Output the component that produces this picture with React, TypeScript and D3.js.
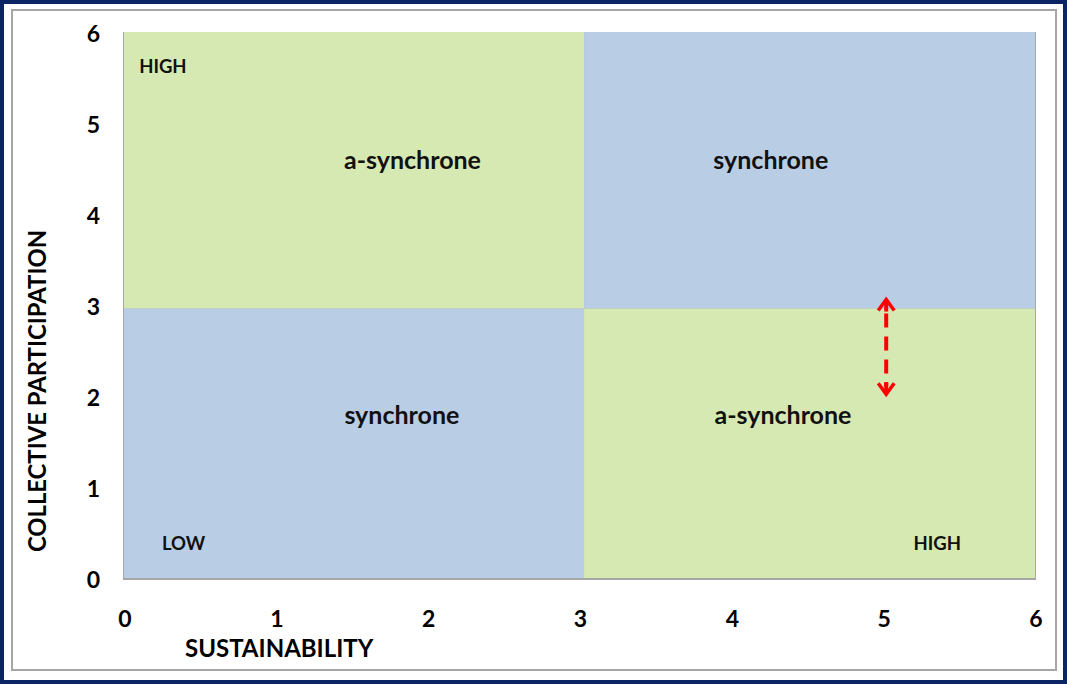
import { useEffect, useRef } from "react";
import * as d3 from "d3";

// quadrant boxes: [x0, x1, y0, y1] (split)
const quadX0 = [0, 3.03, 0, 3.03];
const quadX1 = [3.03, 6, 3.03, 6];
const quadY0 = [2.96, 2.96, 0, 0];
const quadY1 = [6, 6, 2.96, 2.96];
const quadFill = ["#d7e9b3", "#b9cde5", "#b9cde5", "#d7e9b3"];

const quadLabels = ["a-synchrone", "synchrone", "synchrone", "a-synchrone"];
const quadLabelX = [1.9, 4.26, 1.83, 4.34];
const quadLabelY = [4.6, 4.6, 1.8, 1.8];

const cornerLabels = ["HIGH", "LOW", "HIGH"];
const cornerX = [0.1, 0.25, 5.2];
const cornerY = [5.63, 0.38, 0.38];

const xTicks = [0, 1, 2, 3, 4, 5, 6];
const yTicks = [0, 1, 2, 3, 4, 5, 6];

const arrowX = 5.02;
const arrowY = [3.06, 2.02];

const W = 1067;
const H = 684;
const margin = { left: 124, right: 32, top: 32, bottom: 106 };

export default function App() {
  const svgRef = useRef<SVGSVGElement>(null);

  useEffect(() => {
    const svg = d3.select(svgRef.current);
    svg.selectAll("*").remove();
    const font = "Lato, 'Open Sans', sans-serif";

    const x = d3.scaleLinear().domain([0, 6]).range([margin.left, W - margin.right]);
    const y = d3.scaleLinear().domain([0, 6]).range([H - margin.bottom, margin.top]);

    // frame
    svg.append("rect").attr("x", 2).attr("y", 2).attr("width", W - 4).attr("height", H - 4)
      .attr("fill", "#fff").attr("stroke", "#0b2463").attr("stroke-width", 4);
    svg.append("rect").attr("x", 12).attr("y", 10).attr("width", 1044).attr("height", 660)
      .attr("fill", "none").attr("stroke", "#a6a6a6").attr("stroke-width", 2);

    // shadow of plot area
    svg.append("rect")
      .attr("x", x(0) - 1).attr("y", y(6)).attr("width", x(6) - x(0) + 2).attr("height", y(0) - y(6) + 2)
      .attr("fill", "#a6a6a6");

    const q = svg.append("g");
    quadLabels.forEach((_, i) => {
      q.append("rect")
        .attr("x", x(quadX0[i])).attr("y", y(quadY1[i]))
        .attr("width", x(quadX1[i]) - x(quadX0[i]))
        .attr("height", y(quadY0[i]) - y(quadY1[i]))
        .attr("fill", quadFill[i]);
    });

    quadLabels.forEach((t, i) => {
      svg.append("text").attr("x", x(quadLabelX[i])).attr("y", y(quadLabelY[i]))
        .attr("text-anchor", "middle").attr("dominant-baseline", "central")
        .attr("font-family", font).attr("font-weight", "bold").attr("font-size", 25)
        .attr("fill", "#111").text(t);
    });

    cornerLabels.forEach((t, i) => {
      svg.append("text").attr("x", x(cornerX[i])).attr("y", y(cornerY[i]))
        .attr("dominant-baseline", "central")
        .attr("font-family", font).attr("font-weight", "bold").attr("font-size", 18.5)
        .attr("fill", "#111").text(t);
    });

    // ticks
    svg.append("g").selectAll("text").data(xTicks).join("text")
      .attr("x", (d) => x(d) + 1).attr("y", y(0) + 40)
      .attr("text-anchor", "middle").attr("dominant-baseline", "central")
      .attr("font-family", font).attr("font-weight", "bold").attr("font-size", 23)
      .attr("fill", "#000").text((d) => d);
    svg.append("g").selectAll("text").data(yTicks).join("text")
      .attr("x", x(0) - 24).attr("y", (d) => y(d) + 1)
      .attr("text-anchor", "end").attr("dominant-baseline", "central")
      .attr("font-family", font).attr("font-weight", "bold").attr("font-size", 23)
      .attr("fill", "#000").text((d) => d);

    // axis titles
    svg.append("text").attr("x", 185).attr("y", 647)
      .attr("dominant-baseline", "central")
      .attr("font-family", font).attr("font-weight", "bold").attr("font-size", 24)
      .attr("fill", "#000").text("SUSTAINABILITY");
    svg.append("text").attr("transform", `translate(37,${391}) rotate(-90)`)
      .attr("text-anchor", "middle").attr("dominant-baseline", "central")
      .attr("font-family", font).attr("font-weight", "bold").attr("font-size", 23.8)
      .attr("fill", "#000").text("COLLECTIVE PARTICIPATION");

    // double-headed dashed arrow
    const ax = x(arrowX);
    const ya = y(arrowY[0]);
    const yb = y(arrowY[1]);
    svg.append("line").attr("x1", ax).attr("x2", ax).attr("y1", ya + 14).attr("y2", yb - 8)
      .attr("stroke", "#ff0000").attr("stroke-width", 4).attr("stroke-dasharray", "14 9");
    const head = d3.line();
    svg.append("path").attr("d", head([[ax - 8, ya + 11], [ax, ya], [ax + 8, ya + 11]]))
      .attr("fill", "none").attr("stroke", "#ff0000").attr("stroke-width", 3.5);
    svg.append("path").attr("d", head([[ax - 8, yb - 11], [ax, yb], [ax + 8, yb - 11]]))
      .attr("fill", "none").attr("stroke", "#ff0000").attr("stroke-width", 3.5);
    svg.append("line").attr("x1", ax).attr("x2", ax).attr("y1", ya).attr("y2", ya + 12)
      .attr("stroke", "#ff0000").attr("stroke-width", 4);
    svg.append("line").attr("x1", ax).attr("x2", ax).attr("y1", yb - 12).attr("y2", yb)
      .attr("stroke", "#ff0000").attr("stroke-width", 4);
  }, []);

  return (
    <svg ref={svgRef} width={W} height={H} style={{ position: "absolute", left: 0, top: 0 }} />
  );
}
